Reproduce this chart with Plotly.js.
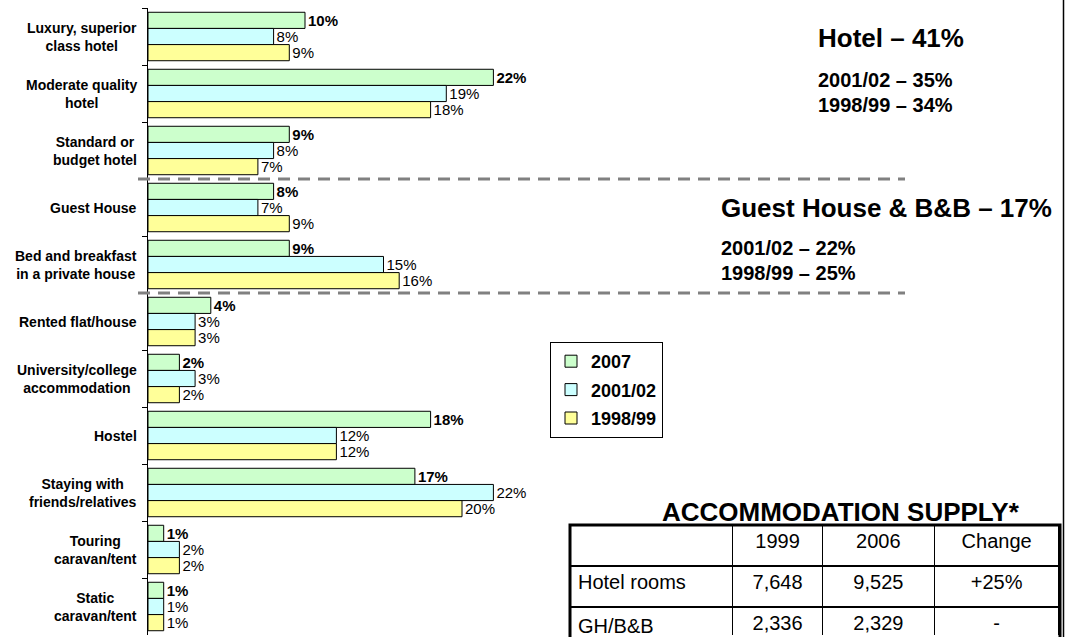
<!DOCTYPE html>
<html><head><meta charset="utf-8">
<script src="https://cdn.plot.ly/plotly-3.0.1.min.js"></script>
<style>html,body{margin:0;padding:0;background:#fff;overflow:hidden;} .scrollbar-kit{display:none !important;}</style>
</head><body><div id="chart" style="width:1067px;height:637px;"></div>
<script>
// ---- data ----
const categories = ["Luxury, superior<br>class hotel","Moderate quality<br>hotel","Standard or<br>budget hotel","Guest House","Bed and breakfast<br>in a private house","Rented flat/house","University/college<br>accommodation","Hostel","Staying with<br>friends/relatives","Touring<br>caravan/tent","Static<br>caravan/tent"];
const values2007 = [10,22,9,8,9,4,2,18,17,1,1];
const values2001 = [8,19,8,7,15,3,3,12,22,2,1];
const values1998 = [9,18,7,9,16,3,2,12,20,2,1];
const seriesNames = ["2007","2001/02","1998/99"];
const hotelSummary = ["Hotel – 41%","2001/02 – 35%","1998/99 – 34%"];
const ghSummary = ["Guest House & B&B – 17%","2001/02 – 22%","1998/99 – 25%"];
const tableTitle = "ACCOMMODATION SUPPLY*";
const tableHeader = ["", "1999", "2006", "Change"];
const tableRowLabels = ["Hotel rooms","GH/B&B"];
const supply1999 = ["7,648","2,336"];
const supply2006 = ["9,525","2,329"];
const supplyChange = ["+25%","-"];

// ---- layout helpers (pixel -> paper) ----
const W = 1067, H = 637, ML = 148, MR = 0, MT = 8, MB = 2;
const PW = W - ML - MR, PH = H - MT - MB;
const px = x => (x - ML) / PW;
const py = y => (H - MB - y) / PH;
const FONT = "Arial, 'Liberation Sans', sans-serif";

const colors = ["#CCFFCC","#CCFFFF","#FFFF99"];
const allValues = [values2007, values2001, values1998];

const traces = allValues.map((vals, i) => ({
  type: "bar", orientation: "h",
  name: seriesNames[i], legendgroup: "g" + i,
  y: categories, x: vals,
  marker: {color: colors[i], line: {color: "#000", width: 1}},
  text: vals.map(v => v + "%"),
  textposition: "outside", constraintext: "none", cliponaxis: false,
  textfont: {family: FONT, size: 15, color: "#000", weight: i === 0 ? "bold" : "normal"},
  hoverinfo: "skip"
}));

traces.push({
  type: "table",
  domain: {x: [px(570), px(1060)], y: [0, py(525)]},
  columnwidth: [163, 90, 112, 125],
  header: {
    values: tableHeader, height: 41,
    align: ["left","center","center","center"],
    fill: {color: "#fff"}, line: {color: "#000", width: 1.5},
    font: {family: FONT, size: 20, color: "#000"}
  },
  cells: {
    values: [tableRowLabels, supply1999, supply2006, supplyChange], height: 41,
    align: ["left","center","center","center"],
    fill: {color: "#fff"}, line: {color: "#000", width: 1.5},
    font: {family: FONT, size: 20, color: "#000"}
  }
});

const annotations = categories.map(c => ({
  xref: "paper", yref: "y", x: px(139), y: c,
  xanchor: "right", yanchor: "middle", align: "center",
  text: "<b>" + c + "</b>", showarrow: false,
  font: {family: FONT, size: 14, color: "#000"}
}));

function addBlock(lines, left, ys) {
  lines.forEach((t, i) => annotations.push({
    xref: "paper", yref: "paper", x: px(left), y: py(ys[i]),
    xanchor: "left", yanchor: "middle", showarrow: false,
    text: "<b>" + t + "</b>",
    font: {family: FONT, size: i === 0 ? 26 : 20, color: "#000"}
  }));
}
addBlock(hotelSummary, 816, [38, 80, 105]);
addBlock(ghSummary, 719, [208, 248, 273]);
annotations.push({
  xref: "paper", yref: "paper", x: px(841), y: py(512),
  xanchor: "center", yanchor: "middle", showarrow: false,
  text: "<b>" + tableTitle + "</b>",
  font: {family: FONT, size: 26, color: "#000"}
});

const shapes = [
  {type: "line", xref: "paper", yref: "y", x0: px(138), x1: px(905), y0: 2.5, y1: 2.5,
   line: {color: "#808080", width: 3, dash: "12px,8px"}, layer: "above"},
  {type: "line", xref: "paper", yref: "y", x0: px(138), x1: px(905), y0: 4.5, y1: 4.5,
   line: {color: "#808080", width: 3, dash: "12px,8px"}, layer: "above"},
  {type: "line", xref: "paper", yref: "paper", x0: px(1063.5), x1: px(1063.5), y0: py(-5), y1: py(645),
   line: {color: "#000", width: 1.5}, layer: "above"},
  {type: "rect", xref: "paper", yref: "paper", x0: px(570), x1: px(1060), y0: py(525), y1: py(700),
   line: {color: "#000", width: 3}, layer: "above"}
];

const layout = {
  width: W, height: H,
  margin: {l: ML, r: MR, t: MT, b: MB, pad: 0},
  paper_bgcolor: "#fff", plot_bgcolor: "rgba(0,0,0,0)",
  barmode: "group", bargap: 0.15, bargroupgap: 0,
  font: {family: FONT, color: "#000"},
  xaxis: {range: [0, PW / 15.7], visible: false, fixedrange: true},
  yaxis: {type: "category", autorange: "reversed", showline: true, linecolor: "#000", linewidth: 1,
          ticks: "outside", ticklen: 5, tickcolor: "#000", tickwidth: 1, tickson: "boundaries",
          showticklabels: false, showgrid: false, zeroline: false, fixedrange: true},
  showlegend: true,
  legend: {x: px(550), y: py(342), xanchor: "left", yanchor: "top",
           bordercolor: "#000", borderwidth: 1, bgcolor: "#fff",
           font: {family: FONT, size: 18, color: "#000", weight: "bold"},
           tracegroupgap: 2, traceorder: "grouped", itemclick: false, itemdoubleclick: false},
  annotations: annotations,
  shapes: shapes
};

Plotly.newPlot("chart", traces, layout, {displayModeBar: false, staticPlot: true});
</script>
</body></html>
